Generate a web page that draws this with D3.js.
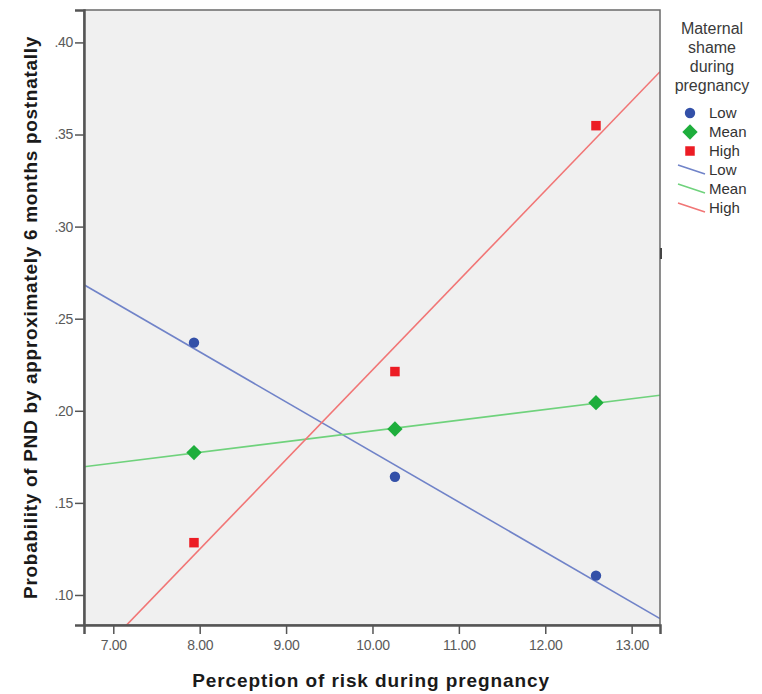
<!DOCTYPE html>
<html>
<head>
<meta charset="utf-8">
<script src="https://cdn.jsdelivr.net/npm/d3@7"></script>
<style>
  html, body { margin: 0; padding: 0; background: #ffffff; }
  svg { display: block; font-family: Arial, "Liberation Sans", sans-serif; }
</style>
</head>
<body>
<svg id="chart" width="762" height="694"></svg>
<script>
// Simple slopes: perception of risk at mean -1 SD, mean, mean +1 SD
const riskLevels = [7.934, 10.26, 12.587];
const groups = ["Low", "Mean", "High"];
const lowValues  = [0.2370, 0.1642, 0.1105];
const meanValues = [0.1773, 0.1901, 0.2044];
const highValues = [0.1284, 0.2213, 0.3548];
const xTicks = [7, 8, 9, 10, 11, 12, 13];
const yTicks = [0.10, 0.15, 0.20, 0.25, 0.30, 0.35, 0.40];

const pointColors = { Low: "#3350a8", Mean: "#1eae3c", High: "#ec1c24" };
const lineColors  = { Low: "#7083c8", Mean: "#6fd27c", High: "#f17575" };
const seriesValues = { Low: lowValues, Mean: meanValues, High: highValues };

const svg = d3.select("#chart");
const plot = { left: 84, top: 10, right: 660, bottom: 625 };

const x = d3.scaleLinear().domain([6.661, 13.328]).range([plot.left, plot.right]);
const y = d3.scaleLinear().domain([0.0837, 0.4176]).range([plot.bottom, plot.top]);

// plot background
svg.append("rect")
  .attr("x", plot.left).attr("y", plot.top)
  .attr("width", plot.right - plot.left).attr("height", plot.bottom - plot.top)
  .attr("fill", "#f0f0f0");

svg.append("clipPath").attr("id", "plotClip")
  .append("rect")
  .attr("x", plot.left).attr("y", plot.top)
  .attr("width", plot.right - plot.left).attr("height", plot.bottom - plot.top);

// least-squares fit line for each group
function fit(xs, ys) {
  const mx = d3.mean(xs), my = d3.mean(ys);
  const num = d3.sum(xs, (v, i) => (v - mx) * (ys[i] - my));
  const den = d3.sum(xs, v => (v - mx) * (v - mx));
  const b = num / den;
  return { a: my - b * mx, b };
}

const lineLayer = svg.append("g").attr("clip-path", "url(#plotClip)");
groups.forEach(g => {
  const f = fit(riskLevels, seriesValues[g]);
  const xs = x.domain();
  lineLayer.append("line")
    .attr("x1", x(xs[0])).attr("y1", y(f.a + f.b * xs[0]))
    .attr("x2", x(xs[1])).attr("y2", y(f.a + f.b * xs[1]))
    .attr("stroke", lineColors[g]).attr("stroke-width", 1.6);
});

// markers
const symbolFor = {
  Low: d3.symbol().type(d3.symbolCircle).size(85),
  Mean: d3.symbol().type(d3.symbolDiamond2).size(150),
  High: d3.symbol().type(d3.symbolSquare2).size(115)
};
groups.forEach(g => {
  svg.append("g").selectAll("path")
    .data(riskLevels.map((r, i) => [r, seriesValues[g][i]]))
    .join("path")
    .attr("transform", d => `translate(${x(d[0])},${y(d[1])})`)
    .attr("d", symbolFor[g])
    .attr("fill", pointColors[g]);
});

// frame
svg.append("rect")
  .attr("x", plot.left).attr("y", plot.top)
  .attr("width", plot.right - plot.left).attr("height", plot.bottom - plot.top)
  .attr("fill", "none").attr("stroke", "#6a6a6a").attr("stroke-width", 1.5);
// small handle mark on the right edge
svg.append("line")
  .attr("x1", plot.right + 1).attr("x2", plot.right + 1)
  .attr("y1", 248).attr("y2", 259)
  .attr("stroke", "#444").attr("stroke-width", 2);

// axes
const yAxis = d3.axisLeft(y).tickValues(yTicks).tickSize(9).tickPadding(2)
  .tickFormat(d => d3.format(".2f")(d).replace(/^0/, ""));
const gy = svg.append("g").attr("transform", `translate(${plot.left},0)`).call(yAxis);

const xAxis = d3.axisBottom(x).tickValues(xTicks).tickSize(9).tickPadding(6)
  .tickFormat(d3.format(".2f"));
const gx = svg.append("g").attr("transform", `translate(0,${plot.bottom})`).call(xAxis);

[gx, gy].forEach(g => {
  g.select(".domain").attr("stroke", "#555").attr("stroke-width", 2.5);
  g.selectAll(".tick line").attr("stroke", "#555").attr("stroke-width", 1.5);
  g.selectAll(".tick text").attr("fill", "#5a5a5a").attr("font-size", 14)
    .style("letter-spacing", "-0.3px");
});

// axis titles
svg.append("text")
  .attr("x", (plot.left + plot.right) / 2 - 1).attr("y", 687)
  .attr("text-anchor", "middle")
  .attr("font-size", 19).attr("font-weight", "bold").attr("fill", "#1a1a1a")
  .style("letter-spacing", "0.9px")
  .text("Perception of risk during pregnancy");

svg.append("text")
  .attr("transform", `translate(37,${(plot.top + plot.bottom) / 2}) rotate(-90)`)
  .attr("text-anchor", "middle")
  .attr("font-size", 19).attr("font-weight", "bold").attr("fill", "#1a1a1a")
  .style("letter-spacing", "0.7px")
  .text("Probability of PND by approximately 6 months postnatally");

// legend
const legend = svg.append("g");
const titleLines = ["Maternal", "shame", "during", "pregnancy"];
legend.selectAll("text.title").data(titleLines).join("text")
  .attr("class", "title")
  .attr("x", 712).attr("y", (d, i) => 34 + i * 19)
  .attr("text-anchor", "middle")
  .attr("font-size", 16).attr("fill", "#3a3a3a")
  .text(d => d);

const rowY = [113, 132, 151, 170, 189, 208];
groups.forEach((g, i) => {
  legend.append("path")
    .attr("transform", `translate(690,${rowY[i]})`)
    .attr("d", symbolFor[g])
    .attr("fill", pointColors[g]);
  legend.append("text")
    .attr("x", 709).attr("y", rowY[i] + 5)
    .attr("font-size", 15).attr("fill", "#333")
    .text(g);
});
groups.forEach((g, i) => {
  const cy = rowY[i + 3];
  legend.append("line")
    .attr("x1", 678).attr("y1", cy - 5)
    .attr("x2", 705).attr("y2", cy + 4)
    .attr("stroke", lineColors[g]).attr("stroke-width", 1.6);
  legend.append("text")
    .attr("x", 709).attr("y", cy + 5)
    .attr("font-size", 15).attr("fill", "#333")
    .text(g);
});
</script>
</body>
</html>
